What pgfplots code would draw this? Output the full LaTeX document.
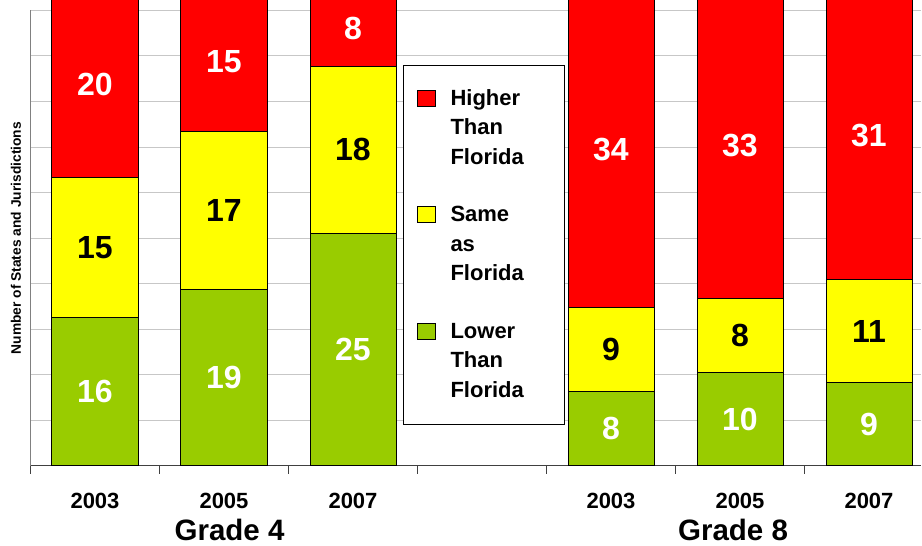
\documentclass[border=0pt]{standalone}
\usepackage{pgfplots}
\pgfplotsset{compat=1.18}
\usepackage{pgfplotstable}
\usepackage{fontspec}
\setmainfont{Liberation Sans}
\definecolor{hired}{HTML}{FF0000}
\definecolor{sameyel}{HTML}{FFFF00}
\definecolor{lowgreen}{HTML}{99CC00}
\pgfplotstableread{
x lower same higher
0 16 15 20
1 19 17 15
2 25 18 8
4 8 9 34
5 10 8 33
6 9 11 31
}\datatable
\newcommand{\legtext}[3]{\begin{tabular}[t]{@{}l@{\hspace{28pt}}}#1\\#2\\#3\end{tabular}}
\begin{document}
\begin{tikzpicture}
\path[use as bounding box] (0,0) rectangle (922pt,546pt);
\begin{axis}[
  at={(30.5pt,80pt)}, anchor=south west,
  x=129pt, y=9.3pt,
  xmin=-0.5, xmax=6.4, ymin=0, ymax=49,
  clip=false,
  ybar stacked, bar width=86pt,
  axis x line=bottom, axis y line=left, axis line style={-},
  x axis line style={draw=black!75, line width=1pt},
  y axis line style={draw=black!50, line width=1pt},
  ytick={4.9,9.8,14.7,19.6,24.5,29.4,34.3,39.2,44.1,49},
  yticklabels={},
  ytick style={draw=none},
  ymajorgrids,
  major grid style={draw=black!22, line width=1pt},
  xtick={-0.5,0.5,1.5,2.5,3.5,4.5,5.5},
  xticklabels={},
  tick align=outside,
  major tick length=8pt,
  xtick style={draw=black!75, line width=1pt},
  extra x ticks={0,1,2,4,5,6},
  extra x tick labels={\mbox{2003},\mbox{2005},\mbox{2007},\mbox{2003},\mbox{2005},\mbox{2007}},
  extra x tick style={major tick length=0pt},
  xticklabel style={anchor=base, yshift=-43pt, font=\fontsize{22}{26}\selectfont\bfseries},
  ylabel={Number of States and Jurisdictions},
  ylabel style={at={(axis description cs:-0.0163,0.5)}, anchor=center, font=\fontsize{13.8}{16}\selectfont\bfseries},
  legend style={at={(0.4185,0.880)}, anchor=north west, draw=black, line width=1pt, fill=white,
     font=\fontsize{22}{29.5}\selectfont\bfseries, inner xsep=13pt, inner ysep=19pt,
     row sep=28pt, column sep=15pt, nodes={inner sep=0pt, text depth={}, text height={}}, cells={anchor=base west}},
  legend image code/.code={\draw[#1, line width=1pt] (0pt,-1pt) rectangle (18pt,15pt);},
  reverse legend,
]
\addplot[fill=lowgreen, draw=black, line width=1pt,
  nodes near coords={\pgfplotspointmeta}, point meta=explicit symbolic,
  every node near coord/.append style={anchor=center, text=white, font=\fontsize{32}{36}\selectfont\bfseries}]
  table[x=x, y=lower, meta=lower] {\datatable};
\addlegendentry{\legtext{Lower}{Than}{Florida}}
\addplot[fill=sameyel, draw=black, line width=1pt,
  nodes near coords={\pgfplotspointmeta}, point meta=explicit symbolic,
  every node near coord/.append style={anchor=center, text=black, font=\fontsize{32}{36}\selectfont\bfseries}]
  table[x=x, y=same, meta=same] {\datatable};
\addlegendentry{\legtext{Same}{as}{Florida}}
\addplot[fill=hired, draw=black, line width=1pt,
  nodes near coords={\pgfplotspointmeta}, point meta=explicit symbolic,
  every node near coord/.append style={anchor=center, text=white, font=\fontsize{32}{36}\selectfont\bfseries}]
  table[x=x, y=higher, meta=higher] {\datatable};
\addlegendentry{\legtext{Higher}{Than}{Florida}}
\node[anchor=base, yshift=-75pt, font=\fontsize{29.5}{34}\selectfont\bfseries] at (axis cs:1.043,0) {Grade 4};
\node[anchor=base, yshift=-75pt, font=\fontsize{29.5}{34}\selectfont\bfseries] at (axis cs:4.946,0) {Grade 8};
\end{axis}
\end{tikzpicture}
\end{document}
